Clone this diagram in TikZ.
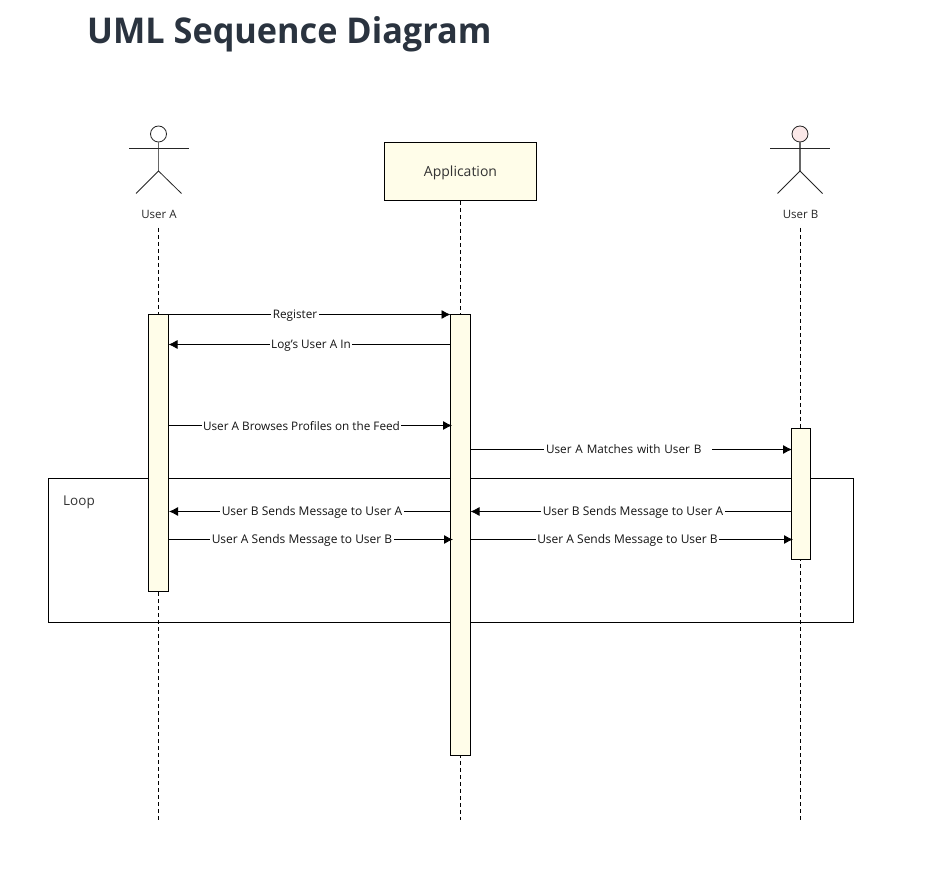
\documentclass[tikz,border=0pt]{standalone}
\usepackage{fontspec}
\setmainfont{Open Sans}
\newfontfamily\titlefont[FakeStretch=0.965]{Open Sans}
\usetikzlibrary{arrows.meta}
\definecolor{barfill}{HTML}{FFFDE9}
\definecolor{pinkhead}{HTML}{FBE8E8}
\definecolor{titleink}{HTML}{2A333F}
\tikzset{
  x=1pt,y=-1pt,
  lifeline/.style={draw=black,line width=0.8pt,dash pattern=on 4pt off 3pt},
  activation/.style={draw=black,fill=barfill,line width=0.8pt,inner sep=0pt,minimum width=20pt},
  msg/.style={draw=black,line width=0.8pt,-{Latex[length=9pt,width=9pt]}},
  msglabel/.style={fill=white,inner sep=1.5pt,font=\fontsize{11.75}{13}\selectfont,text=black!92},
  msglong/.style={msglabel,font=\fontsize{12}{13}\selectfont},
  actorline/.style={draw=black!85,line width=0.8pt},
  actorbody/.style={draw=black!60,line width=1.6pt},
  actorname/.style={font=\fontsize{11.5}{13}\selectfont,text=black!85,inner sep=0pt},
}
\begin{document}
\begin{tikzpicture}
\useasboundingbox (0,0) rectangle (930,893);
\fill[white] (0,0) rectangle (930,893);
\node[anchor=base west,inner sep=0pt,font=\titlefont\fontsize{35.5}{40}\selectfont\bfseries,text=titleink] (title) at (87,44) {UML Sequence Diagram};

% lifeline ends
\coordinate (endA) at (158.5,820);
\coordinate (endApp) at (460.5,820);
\coordinate (endB) at (800.5,820);

% actor A
\node[draw=black!85,fill=white,circle,minimum size=16pt,inner sep=0pt,line width=0.8pt] (headA) at (158.5,134) {};
\coordinate (hipA) at (158.5,171);
\draw[actorbody] (headA.south) -- (hipA);
\coordinate (armLA) at (129,148.5); \coordinate (armRA) at (189,148.5);
\coordinate (legLA) at (136,193.5); \coordinate (legRA) at (181.5,193.5);
\draw[actorline] (armLA) -- (armRA);
\draw[actorline] (legLA) -- (hipA) -- (legRA);
\node[actorname] (nameA) at (159,214) {User A};

% actor B
\node[draw=black!85,fill=pinkhead,circle,minimum size=16pt,inner sep=0pt,line width=0.8pt] (headB) at (800,134) {};
\coordinate (hipB) at (800,171);
\draw[actorbody] (headB.south) -- (hipB);
\coordinate (armLB) at (770,148.5); \coordinate (armRB) at (830,148.5);
\coordinate (legLB) at (777.5,193.5); \coordinate (legRB) at (822.5,193.5);
\draw[actorline] (armLB) -- (armRB);
\draw[actorline] (legLB) -- (hipB) -- (legRB);
\node[actorname] (nameB) at (800.5,214) {User B};

% application
\node[draw=black,fill=barfill,line width=0.8pt,minimum width=152pt,minimum height=58pt,inner sep=0pt] (app) at (460.5,171.5) {};
\node[inner sep=0pt,font=\fontsize{14}{16}\selectfont,text=black!80] (apptext) at (460.5,172.5) {Application};

% lifelines
\coordinate (startA) at (158.5,228);
\coordinate (startB) at (800.5,228);
\draw[lifeline] (startA) -- (endA);
\draw[lifeline] (app.south) -- (endApp);
\draw[lifeline] (startB) -- (endB);

% loop frame
\node[draw=black,line width=0.8pt,minimum width=805pt,minimum height=144pt,inner sep=0pt] (loop) at (451,550.5) {};
\node[anchor=west,inner sep=0pt,font=\fontsize{13.5}{15}\selectfont,text=black!80] (looplabel) at (63,502) {Loop};

% activations
\node[activation,minimum height=276.5pt] (barA) at (158.5,453) {};
\node[activation,minimum height=440.5pt] (barApp) at (460.5,535) {};
\node[activation,minimum width=18.5pt,minimum height=130.5pt] (barB) at (800.75,494) {};

% messages
\coordinate (m1a) at (168.5,314.5); \coordinate (m1b) at (450.5,314.5);
\coordinate (m2a) at (450.5,344.5); \coordinate (m2b) at (168.5,344.5);
\coordinate (m3a) at (168.5,425.5); \coordinate (m3b) at (452,425.5);
\coordinate (m4a) at (470.5,449.5); \coordinate (m4b) at (792,449.5);
\coordinate (m5a) at (791.5,511.5); \coordinate (m5b) at (470.5,511.5);
\coordinate (m6a) at (450.5,511.5); \coordinate (m6b) at (169,511.5);
\coordinate (m7a) at (168.5,539.5); \coordinate (m7b) at (453,539.5);
\coordinate (m8a) at (470.5,539.5); \coordinate (m8b) at (793,539.5);
\draw[msg] (m1a) -- (m1b);
\draw[msg] (m2a) -- (m2b);
\draw[msg] (m3a) -- (m3b);
\draw[msg] (m4a) -- (m4b);
\draw[msg] (m5a) -- (m5b);
\draw[msg] (m6a) -- (m6b);
\draw[msg] (m7a) -- (m7b);
\draw[msg] (m8a) -- (m8b);

\node[msglabel] (l1) at (295,315.5) {Register};
\node[msglabel] (l2) at (311,345.5) {Log's User A In};
\node[msglabel] (l3) at (301.5,426) {User A Browses Profiles on the Feed};
\node[msglabel,minimum width=168pt,text width=168pt,align=left,inner xsep=0pt] (l4) at (628,449.5) {\hspace{2pt}User A Matches with User B};
\node[msglong] (l5) at (633,512) {User B Sends Message to User A};
\node[msglong] (l6) at (312,512) {User B Sends Message to User A};
\node[msglong] (l7) at (302,540) {User A Sends Message to User B};
\node[msglong] (l8) at (627.5,540) {User A Sends Message to User B};
\end{tikzpicture}
\end{document}
